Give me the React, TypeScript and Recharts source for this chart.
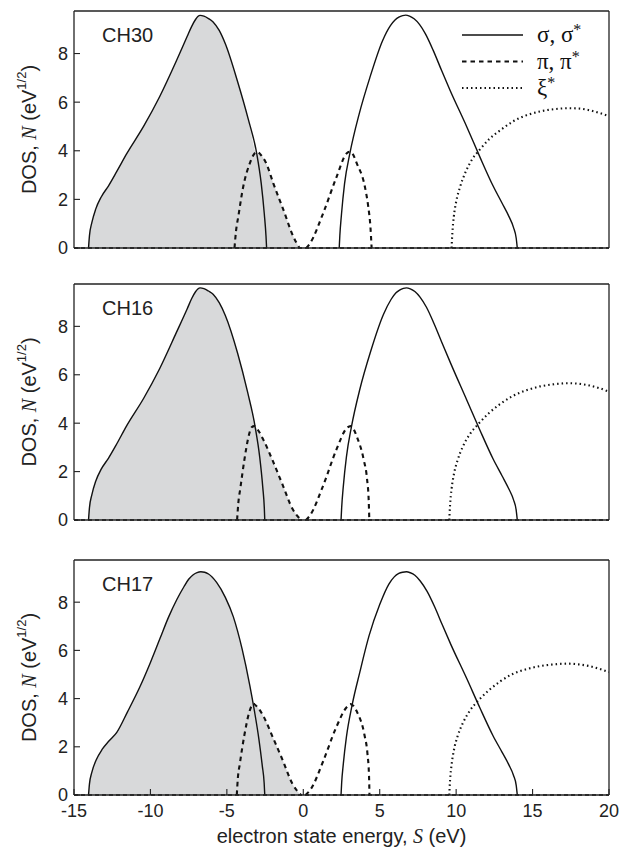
import React from "react";
import { ComposedChart, Line, Area, XAxis, YAxis, Legend, ReferenceLine } from "recharts";

type Pair = [number, number];

// CH30
const ch30SigmaV: Pair[] = [[-14.05, 0], [-13.99, 0.5], [-13.83, 1.05], [-13.58, 1.6], [-13.22, 2.1], [-12.75, 2.55], [-12.2, 3.15], [-11.55, 3.88], [-10.45, 5.0], [-9.4, 6.22], [-8.3, 7.7], [-7.6, 8.7], [-7.3, 9.12], [-7.05, 9.4], [-6.9, 9.52], [-6.75, 9.57], [-6.5, 9.54], [-6.2, 9.44], [-5.9, 9.3], [-5.5, 8.95], [-5.1, 8.4], [-4.3, 6.85], [-3.6, 5.3], [-3.05, 3.9], [-2.75, 2.65], [-2.55, 1.4], [-2.44, 0.5], [-2.4, 0]];
const ch30SigmaC: Pair[] = [[2.35, 0], [2.39, 0.5], [2.5, 1.4], [2.7, 2.65], [3.05, 3.9], [3.65, 5.5], [4.35, 7.0], [5.2, 8.55], [5.7, 9.15], [6.0, 9.38], [6.25, 9.5], [6.5, 9.56], [6.7, 9.58], [6.95, 9.54], [7.25, 9.43], [7.6, 9.2], [8.0, 8.8], [8.5, 8.13], [9.05, 7.3], [9.6, 6.49], [10.7, 4.98], [11.55, 3.75], [12.42, 2.55], [13.0, 1.85], [13.45, 1.3], [13.75, 0.85], [13.93, 0.4], [14.0, 0]];
const ch30PiV: Pair[] = [[-4.5, 0], [-4.4, 0.7], [-4.25, 1.3], [-3.93, 2.52], [-3.5, 3.48], [-3.2, 3.88], [-3.0, 3.95], [-2.8, 3.85], [-2.4, 3.45], [-1.96, 2.66], [-1.3, 1.57], [-0.66, 0.48], [-0.25, 0]];
const ch30PiC: Pair[] = [[0.2, 0], [0.45, 0.2], [1.3, 1.43], [2.18, 2.93], [2.83, 3.89], [3.05, 3.96], [3.25, 3.85], [3.5, 3.48], [4.03, 2.52], [4.25, 1.7], [4.4, 0.8], [4.47, 0]];
const ch30Xi: Pair[] = [[9.7, 0], [9.75, 0.6], [9.85, 1.3], [10.0, 1.9], [10.25, 2.5], [10.6, 3.1], [11.0, 3.6], [11.55, 4.05], [12.2, 4.5], [12.9, 4.85], [13.7, 5.2], [14.6, 5.46], [15.5, 5.62], [16.4, 5.71], [17.3, 5.75], [18.0, 5.74], [18.7, 5.67], [19.4, 5.55], [20, 5.42]];

// CH16
const ch16SigmaV: Pair[] = [[-14.05, 0], [-13.99, 0.5], [-13.83, 1.05], [-13.58, 1.6], [-13.22, 2.1], [-12.75, 2.55], [-12.2, 3.15], [-11.55, 3.9], [-10.45, 5.02], [-9.4, 6.25], [-8.3, 7.75], [-7.6, 8.72], [-7.3, 9.15], [-7.05, 9.43], [-6.9, 9.54], [-6.75, 9.59], [-6.5, 9.56], [-6.2, 9.46], [-5.9, 9.33], [-5.5, 8.98], [-5.1, 8.45], [-4.3, 6.9], [-3.65, 5.3], [-3.15, 3.85], [-2.85, 2.6], [-2.65, 1.35], [-2.55, 0.5], [-2.52, 0]];
const ch16SigmaC: Pair[] = [[2.47, 0], [2.51, 0.5], [2.62, 1.4], [2.82, 2.6], [3.15, 3.85], [3.7, 5.4], [4.4, 6.95], [5.25, 8.5], [5.75, 9.12], [6.05, 9.38], [6.3, 9.5], [6.55, 9.57], [6.75, 9.59], [7.0, 9.55], [7.3, 9.44], [7.65, 9.2], [8.05, 8.8], [8.55, 8.12], [9.1, 7.28], [9.65, 6.46], [10.7, 4.95], [11.55, 3.72], [12.42, 2.52], [13.0, 1.83], [13.45, 1.28], [13.75, 0.84], [13.93, 0.4], [14.0, 0]];
const ch16PiV: Pair[] = [[-4.33, 0], [-4.25, 0.7], [-4.12, 1.3], [-3.85, 2.5], [-3.58, 3.45], [-3.38, 3.83], [-3.2, 3.88], [-3.0, 3.75], [-2.6, 3.3], [-2.0, 2.45], [-1.35, 1.45], [-0.7, 0.45], [-0.15, 0]];
const ch16PiC: Pair[] = [[0.18, 0], [0.45, 0.2], [1.3, 1.42], [2.15, 2.88], [2.85, 3.8], [3.1, 3.88], [3.3, 3.75], [3.5, 3.45], [3.95, 2.5], [4.17, 1.7], [4.28, 0.8], [4.32, 0]];
const ch16Xi: Pair[] = [[9.55, 0], [9.6, 0.6], [9.7, 1.28], [9.85, 1.88], [10.1, 2.48], [10.45, 3.05], [10.9, 3.55], [11.5, 4.0], [12.15, 4.42], [12.9, 4.8], [13.7, 5.12], [14.6, 5.36], [15.5, 5.52], [16.4, 5.61], [17.3, 5.65], [18.0, 5.63], [18.7, 5.56], [19.4, 5.44], [20, 5.3]];

// CH17
const ch17SigmaV: Pair[] = [[-14.05, 0], [-13.99, 0.45], [-13.83, 0.95], [-13.55, 1.45], [-13.15, 1.9], [-12.7, 2.25], [-12.2, 2.6], [-11.5, 3.45], [-10.68, 4.5], [-10.0, 5.5], [-9.37, 6.5], [-8.8, 7.4], [-8.28, 8.1], [-7.8, 8.65], [-7.5, 8.95], [-7.2, 9.14], [-6.95, 9.23], [-6.7, 9.26], [-6.45, 9.24], [-6.2, 9.17], [-5.67, 8.82], [-5.1, 8.2], [-4.58, 7.4], [-4.0, 6.05], [-3.5, 4.55], [-3.2, 3.5], [-2.9, 2.3], [-2.68, 1.2], [-2.56, 0.5], [-2.52, 0]];
const ch17SigmaC: Pair[] = [[2.47, 0], [2.51, 0.5], [2.62, 1.3], [2.82, 2.4], [3.2, 3.75], [3.7, 5.1], [4.3, 6.6], [5.0, 7.9], [5.6, 8.75], [5.95, 9.05], [6.25, 9.19], [6.5, 9.24], [6.75, 9.26], [7.0, 9.22], [7.3, 9.12], [7.65, 8.88], [8.1, 8.45], [8.6, 7.8], [9.1, 7.05], [9.65, 6.25], [10.7, 4.82], [11.55, 3.62], [12.42, 2.45], [13.0, 1.78], [13.45, 1.25], [13.75, 0.82], [13.93, 0.4], [14.0, 0]];
const ch17PiV: Pair[] = [[-4.35, 0], [-4.28, 0.7], [-4.15, 1.3], [-3.85, 2.5], [-3.55, 3.4], [-3.38, 3.7], [-3.25, 3.78], [-3.05, 3.68], [-2.55, 3.2], [-2.0, 2.4], [-1.35, 1.45], [-0.7, 0.45], [-0.15, 0]];
const ch17PiC: Pair[] = [[0.15, 0], [0.5, 0.25], [1.3, 1.4], [2.15, 2.8], [2.85, 3.65], [3.1, 3.77], [3.3, 3.68], [3.55, 3.4], [4.0, 2.5], [4.2, 1.7], [4.3, 0.8], [4.33, 0]];
const ch17Xi: Pair[] = [[9.55, 0], [9.6, 0.6], [9.7, 1.25], [9.85, 1.85], [10.1, 2.45], [10.45, 3.0], [10.9, 3.5], [11.5, 3.95], [12.15, 4.35], [12.9, 4.72], [13.7, 5.02], [14.6, 5.22], [15.5, 5.35], [16.4, 5.42], [17.3, 5.45], [18.0, 5.42], [18.7, 5.35], [19.4, 5.23], [20, 5.1]];

const xTicks = [-15, -10, -5, 0, 5, 10, 15, 20];
const yTicks = [0, 2, 4, 6, 8];
const legendNames = ["σ, σ", "π, π", "ξ"];

const SOLID = { stroke: "#111", strokeWidth: 1.4 };
const DASHED = { stroke: "#111", strokeWidth: 2.1, strokeDasharray: "4.5 4" };
const DOTTED = { stroke: "#111", strokeWidth: 2.1, strokeDasharray: "1.5 3" };
const legendStyles = [SOLID, DASHED, DOTTED];

const pts = (a: Pair[]) => a.map(([x, y]) => ({ x, y }));

// occupied states: sigma up to where it meets pi, then pi down to the Fermi level
const filled = (sigma: Pair[], pi: Pair[], cross: number) =>
  pts([...sigma.filter((p) => p[0] <= cross), ...pi.filter((p) => p[0] > cross)]);

const sans = "'Liberation Sans', Arial, sans-serif";
const serif = "'Liberation Serif', 'Times New Roman', serif";

const LegendBox = () => (
  <svg width={160} height={82}>
    {legendNames.map((name, i) => {
      const y = 15 + i * 26.5;
      return (
        <g key={name}>
          <line x1={7} x2={68} y1={y} y2={y} {...legendStyles[i]} />
          <text x={82} y={y + 7} fontFamily={serif} fontSize={23} fill="#111">
            {name}
            <tspan fontSize={16} dy={-7}>*</tspan>
          </text>
        </g>
      );
    })}
  </svg>
);

const YTitle = (props: any) => {
  const vb = props.viewBox || {};
  const cx = 29;
  const cy = vb.y + vb.height / 2;
  return (
    <text
      x={cx}
      y={cy}
      transform={`rotate(-90 ${cx} ${cy})`}
      textAnchor="middle"
      dominantBaseline="central"
      fontFamily={sans}
      fontSize={20}
      fill="#222"
    >
      DOS, <tspan fontFamily={serif} fontStyle="italic">N</tspan> (eV
      <tspan fontSize={13} dy={-8}>1/2</tspan>
      <tspan dy={8}>)</tspan>
    </text>
  );
};

const XTitle = (props: any) => {
  const vb = props.viewBox || {};
  return (
    <text x={vb.x + vb.width / 2} y={vb.y + 48} textAnchor="middle" fontFamily={sans} fontSize={20} fill="#222">
      electron state energy, <tspan fontFamily={serif} fontStyle="italic">S</tspan> (eV)
    </text>
  );
};

type PanelProps = {
  label: string;
  top: number;
  plotH: number;
  last?: boolean;
  legend?: boolean;
  sigmaV: Pair[];
  sigmaC: Pair[];
  piV: Pair[];
  piC: Pair[];
  xi: Pair[];
  cross: number;
};

function Panel({ label, top, plotH, last, legend, sigmaV, sigmaC, piV, piC, xi, cross }: PanelProps) {
  const bottomH = last ? 50 : 1;
  const bottomM = last ? 2 : 14;
  const height = 10 + 1 + plotH + bottomH + bottomM;
  const axisLine = { stroke: "#222", strokeWidth: 1.3 };
  const tickLine = { stroke: "#222", strokeWidth: 1.1 };
  const tickFont = { fontFamily: sans, fontSize: 18, fill: "#222" };
  return (
    <div style={{ position: "absolute", left: 0, top, width: 627, height }}>
      <ComposedChart width={627} height={height} margin={{ top: 10, right: 0, bottom: bottomM, left: 0 }}>
        <XAxis
          dataKey="x"
          type="number"
          domain={[-15, 20]}
          ticks={xTicks}
          interval={0}
          allowDataOverflow
          height={bottomH}
          tickSize={-6}
          tickMargin={15}
          axisLine={axisLine}
          tickLine={tickLine}
          tick={last ? tickFont : false}
          label={last ? { content: (p: any) => <XTitle {...p} /> } : undefined}
        />
        <XAxis
          xAxisId="top"
          dataKey="x"
          type="number"
          orientation="top"
          domain={[-15, 20]}
          ticks={xTicks}
          interval={0}
          allowDataOverflow
          height={1}
          tickSize={-6}
          axisLine={axisLine}
          tickLine={tickLine}
          tick={false}
        />
        <YAxis
          type="number"
          domain={[0, 9.75]}
          ticks={yTicks}
          interval={0}
          allowDataOverflow
          width={74}
          tickSize={-6}
          tickMargin={12}
          axisLine={axisLine}
          tickLine={tickLine}
          tick={tickFont}
          label={{ content: (p: any) => <YTitle {...p} /> }}
        />
        <YAxis
          yAxisId="right"
          orientation="right"
          type="number"
          domain={[0, 9.75]}
          ticks={yTicks}
          interval={0}
          allowDataOverflow
          width={18}
          tickSize={-6}
          axisLine={axisLine}
          tickLine={tickLine}
          tick={false}
        />
        <Area
          data={filled(sigmaV, piV, cross)}
          dataKey="y"
          type="monotone"
          fill="#d8d9da"
          fillOpacity={1}
          stroke="none"
          isAnimationActive={false}
          activeDot={false}
        />
        <ReferenceLine y={0} stroke="#444" strokeWidth={2.2} strokeDasharray="4 3" />
        <Line data={pts(sigmaV)} dataKey="y" type="monotone" dot={false} activeDot={false} isAnimationActive={false} {...SOLID} />
        <Line data={pts(sigmaC)} dataKey="y" type="monotone" dot={false} activeDot={false} isAnimationActive={false} {...SOLID} />
        <Line data={pts(piV)} dataKey="y" type="monotone" dot={false} activeDot={false} isAnimationActive={false} {...DASHED} />
        <Line data={pts(piC)} dataKey="y" type="monotone" dot={false} activeDot={false} isAnimationActive={false} {...DASHED} />
        <Line data={pts(xi)} dataKey="y" type="monotone" dot={false} activeDot={false} isAnimationActive={false} {...DOTTED} />
        {legend && (
          <Legend
            layout="horizontal"
            verticalAlign="middle"
            align="center"
            content={() => <LegendBox />}
            wrapperStyle={{ left: 455, top: 20, width: 160, height: 82 }}
          />
        )}
      </ComposedChart>
      <div
        style={{
          position: "absolute",
          left: 102,
          top: 25,
          fontFamily: sans,
          fontSize: 20,
          lineHeight: "20px",
          color: "#222",
        }}
      >
        {label}
      </div>
    </div>
  );
}

export default function App() {
  return (
    <div style={{ position: "absolute", left: 0, top: 0, width: 627, height: 848, background: "#fff" }}>
      <Panel label="CH30" top={0} plotH={237} legend sigmaV={ch30SigmaV} sigmaC={ch30SigmaC} piV={ch30PiV} piC={ch30PiC} xi={ch30Xi} cross={-3.0} />
      <Panel label="CH16" top={273} plotH={236} sigmaV={ch16SigmaV} sigmaC={ch16SigmaC} piV={ch16PiV} piC={ch16PiC} xi={ch16Xi} cross={-3.15} />
      <Panel label="CH17" top={549} plotH={235} last sigmaV={ch17SigmaV} sigmaC={ch17SigmaC} piV={ch17PiV} piC={ch17PiC} xi={ch17Xi} cross={-3.3} />
    </div>
  );
}
